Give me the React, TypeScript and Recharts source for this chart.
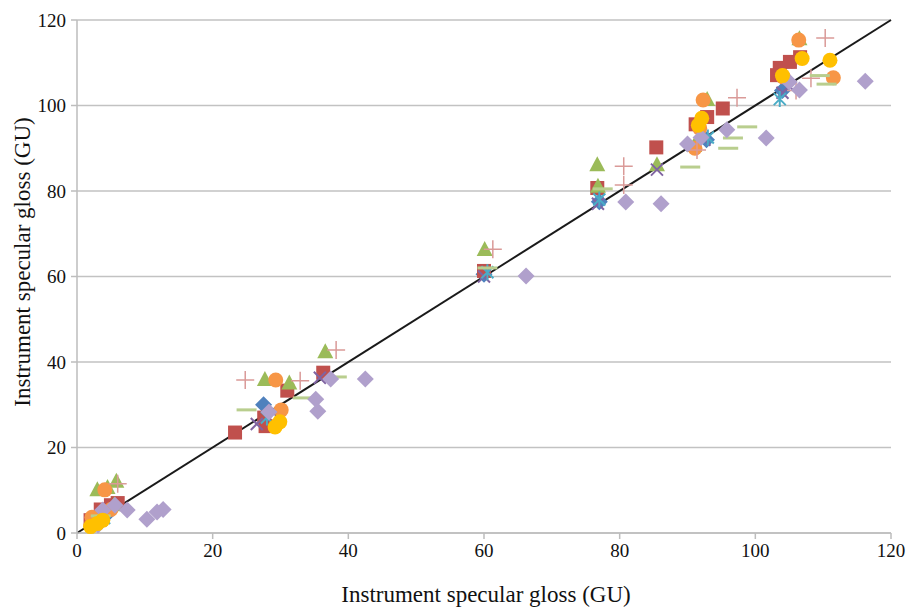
import { ScatterChart, Scatter, XAxis, YAxis, CartesianGrid, ReferenceLine } from 'recharts';

type Pt = { x: number; y: number };

// tick values shared by both axes
const ticks = [0, 20, 40, 60, 80, 100, 120];
const axisTitle = 'Instrument specular gloss (GU)';

const blueDiamond: Pt[] = [
  { x: 4.5, y: 4.5 }, { x: 27.5, y: 30 }, { x: 60, y: 60.5 }, { x: 77, y: 77.5 },
  { x: 92.8, y: 92 }, { x: 104, y: 103.5 },
];
const redSquare: Pt[] = [
  { x: 2, y: 3 }, { x: 3.5, y: 5.5 }, { x: 5, y: 6.5 }, { x: 6, y: 7 },
  { x: 23.3, y: 23.5 }, { x: 27.6, y: 27 }, { x: 27.8, y: 25 }, { x: 31, y: 33.3 },
  { x: 36.3, y: 37.5 }, { x: 60, y: 61.3 }, { x: 76.7, y: 80.7 }, { x: 85.4, y: 90.2 },
  { x: 91.2, y: 95.6 }, { x: 92.9, y: 97.3 }, { x: 95.2, y: 99.3 },
  { x: 103.2, y: 107.1 }, { x: 103.6, y: 108.8 }, { x: 105.1, y: 110.2 }, { x: 106.6, y: 111.3 },
];
const greenTriangle: Pt[] = [
  { x: 3, y: 10 }, { x: 4.5, y: 10.5 }, { x: 5.8, y: 12 }, { x: 5.5, y: 6.5 },
  { x: 27.7, y: 35.8 }, { x: 31.3, y: 35 }, { x: 36.6, y: 42.3 }, { x: 60.1, y: 66.2 },
  { x: 76.7, y: 86 }, { x: 76.8, y: 81 }, { x: 85.5, y: 86 }, { x: 91, y: 90.5 },
  { x: 92.9, y: 101.3 }, { x: 106.5, y: 115.5 },
];
const purpleX: Pt[] = [
  { x: 3.5, y: 3 }, { x: 26.5, y: 25.5 }, { x: 29, y: 28 }, { x: 35.8, y: 36.3 },
  { x: 60, y: 60 }, { x: 76.8, y: 77 }, { x: 85.5, y: 85 }, { x: 92.5, y: 92 },
  { x: 104, y: 103 }, { x: 105, y: 104.5 },
];
const cyanStar: Pt[] = [
  { x: 4, y: 3.5 }, { x: 28, y: 27 }, { x: 60.5, y: 61 }, { x: 77, y: 78 },
  { x: 93, y: 92.5 }, { x: 103.6, y: 101.5 },
];
const orangeCircle: Pt[] = [
  { x: 2.2, y: 3.7 }, { x: 4.1, y: 10.1 }, { x: 5, y: 5.5 }, { x: 29.3, y: 35.8 },
  { x: 30.1, y: 28.8 }, { x: 91.1, y: 90 }, { x: 91.8, y: 94.7 }, { x: 92.3, y: 101.3 },
  { x: 104.1, y: 106.7 }, { x: 106.4, y: 115.3 }, { x: 111.5, y: 106.5 },
];
const pinkPlus: Pt[] = [
  { x: 6, y: 11.5 }, { x: 24.8, y: 35.8 }, { x: 32.9, y: 35.6 }, { x: 38.2, y: 42.8 },
  { x: 61.3, y: 66.4 }, { x: 80.6, y: 85.8 }, { x: 80.6, y: 81.4 }, { x: 91.4, y: 89.6 },
  { x: 97.3, y: 101.8 }, { x: 110.3, y: 115.8 }, { x: 108.2, y: 106.4 }, { x: 106, y: 103.5 },
];
const greenDash: Pt[] = [
  { x: 3.5, y: 4 }, { x: 25, y: 28.8 }, { x: 33.3, y: 31.6 }, { x: 38.3, y: 36.5 },
  { x: 60.5, y: 62 }, { x: 77.5, y: 80.5 }, { x: 90.4, y: 85.6 }, { x: 96, y: 90 },
  { x: 96.7, y: 92.4 }, { x: 98.8, y: 95 }, { x: 109.5, y: 107 }, { x: 110.5, y: 105 },
];
const lavenderDiamond: Pt[] = [
  { x: 3.1, y: 1.9 }, { x: 3.8, y: 5.4 }, { x: 5.6, y: 6.5 }, { x: 7.4, y: 5.4 },
  { x: 10.3, y: 3.2 }, { x: 11.8, y: 4.9 }, { x: 12.7, y: 5.5 }, { x: 28.3, y: 28.3 },
  { x: 35.2, y: 31.3 }, { x: 35.5, y: 28.5 }, { x: 37.4, y: 36 }, { x: 42.5, y: 36 },
  { x: 66.2, y: 60.1 }, { x: 80.9, y: 77.4 }, { x: 86.1, y: 77 }, { x: 90, y: 91 },
  { x: 92, y: 92.5 }, { x: 95.8, y: 94.3 }, { x: 101.6, y: 92.4 }, { x: 105, y: 105.5 },
  { x: 106.5, y: 103.6 }, { x: 116.2, y: 105.7 },
];
const yellowCircle: Pt[] = [
  { x: 2, y: 1.5 }, { x: 3, y: 2.2 }, { x: 3.8, y: 3 }, { x: 29.2, y: 24.8 },
  { x: 29.9, y: 26 }, { x: 91.6, y: 95.4 }, { x: 92.1, y: 97 }, { x: 104, y: 107 },
  { x: 106.9, y: 111 }, { x: 111, y: 110.6 },
];

const marker = (kind: string, color: string) => (p: any) => {
  const { cx, cy } = p;
  if (cx == null || cy == null) return <g />;
  switch (kind) {
    case 'diamond':
      return <path d={`M${cx},${cy - 8.5}L${cx + 8.5},${cy}L${cx},${cy + 8.5}L${cx - 8.5},${cy}Z`} fill={color} />;
    case 'square':
      return <rect x={cx - 7} y={cy - 7} width={14} height={14} fill={color} />;
    case 'triangle':
      return <path d={`M${cx},${cy - 9}L${cx + 8},${cy + 6}L${cx - 8},${cy + 6}Z`} fill={color} />;
    case 'x':
      return <path d={`M${cx - 6},${cy - 6}L${cx + 6},${cy + 6}M${cx + 6},${cy - 6}L${cx - 6},${cy + 6}`} stroke={color} strokeWidth={2} />;
    case 'star':
      return <path d={`M${cx - 6},${cy - 6}L${cx + 6},${cy + 6}M${cx + 6},${cy - 6}L${cx - 6},${cy + 6}M${cx},${cy - 8}L${cx},${cy + 8}`} stroke={color} strokeWidth={2} />;
    case 'circle':
      return <circle cx={cx} cy={cy} r={7.5} fill={color} />;
    case 'plus':
      return <path d={`M${cx - 9},${cy}L${cx + 9},${cy}M${cx},${cy - 9}L${cx},${cy + 9}`} stroke={color} strokeWidth={1.5} />;
    case 'dash':
      return <path d={`M${cx - 10},${cy}L${cx + 10},${cy}`} stroke={color} strokeWidth={3} />;
    default:
      return <g />;
  }
};

const series = [
  { name: 'A', data: blueDiamond, kind: 'diamond', color: '#4F81BD' },
  { name: 'B', data: redSquare, kind: 'square', color: '#C0504D' },
  { name: 'C', data: greenTriangle, kind: 'triangle', color: '#9BBB59' },
  { name: 'D', data: purpleX, kind: 'x', color: '#8064A2' },
  { name: 'E', data: cyanStar, kind: 'star', color: '#4BACC6' },
  { name: 'F', data: orangeCircle, kind: 'circle', color: '#F79646' },
  { name: 'G', data: pinkPlus, kind: 'plus', color: '#DA9A98' },
  { name: 'H', data: greenDash, kind: 'dash', color: '#B9CE8E' },
  { name: 'I', data: lavenderDiamond, kind: 'diamond', color: '#B0A0CC' },
  { name: 'J', data: yellowCircle, kind: 'circle', color: '#FFC000' },
];

const font = '"Liberation Serif", "Times New Roman", serif';

const XTitle = () => (
  <text x={486} y={602} textAnchor="middle" fill="#111" fontSize={23} fontFamily={font}>
    {axisTitle}
  </text>
);

const YTitle = () => (
  <text x={30} y={262} transform="rotate(-90 30 262)" textAnchor="middle" fill="#111" fontSize={23} fontFamily={font}>
    {axisTitle}
  </text>
);

export default function App() {
  return (
    <div style={{ position: 'absolute', left: 0, top: 0, width: 909, height: 607, background: '#fff' }}>
      <ScatterChart width={909} height={607} margin={{ top: 20, right: 18, bottom: 0, left: 7 }}>
        <CartesianGrid horizontal vertical={false} stroke="#C2C2C2" strokeWidth={1.5} />
        <XAxis
          type="number"
          dataKey="x"
          domain={[0, 120]}
          ticks={ticks}
          height={74}
          stroke="#BDBDBD"
          strokeWidth={1.5}
          tickSize={6}
          tickMargin={5}
          tick={{ fill: '#111', fontSize: 19, fontFamily: font }}
          label={<XTitle />}
        />
        <YAxis
          type="number"
          dataKey="y"
          domain={[0, 120]}
          ticks={ticks}
          width={70}
          stroke="#BDBDBD"
          strokeWidth={1.5}
          tickSize={6}
          tickMargin={5}
          tick={{ fill: '#111', fontSize: 19, fontFamily: font }}
          label={<YTitle />}
        />
        {series.map((s) => (
          <Scatter key={s.name} name={s.name} data={s.data} shape={marker(s.kind, s.color)} isAnimationActive={false} />
        ))}
        <ReferenceLine segment={[{ x: 0, y: 0 }, { x: 120, y: 120 }]} stroke="#1a1a1a" strokeWidth={2} />
      </ScatterChart>
    </div>
  );
}
